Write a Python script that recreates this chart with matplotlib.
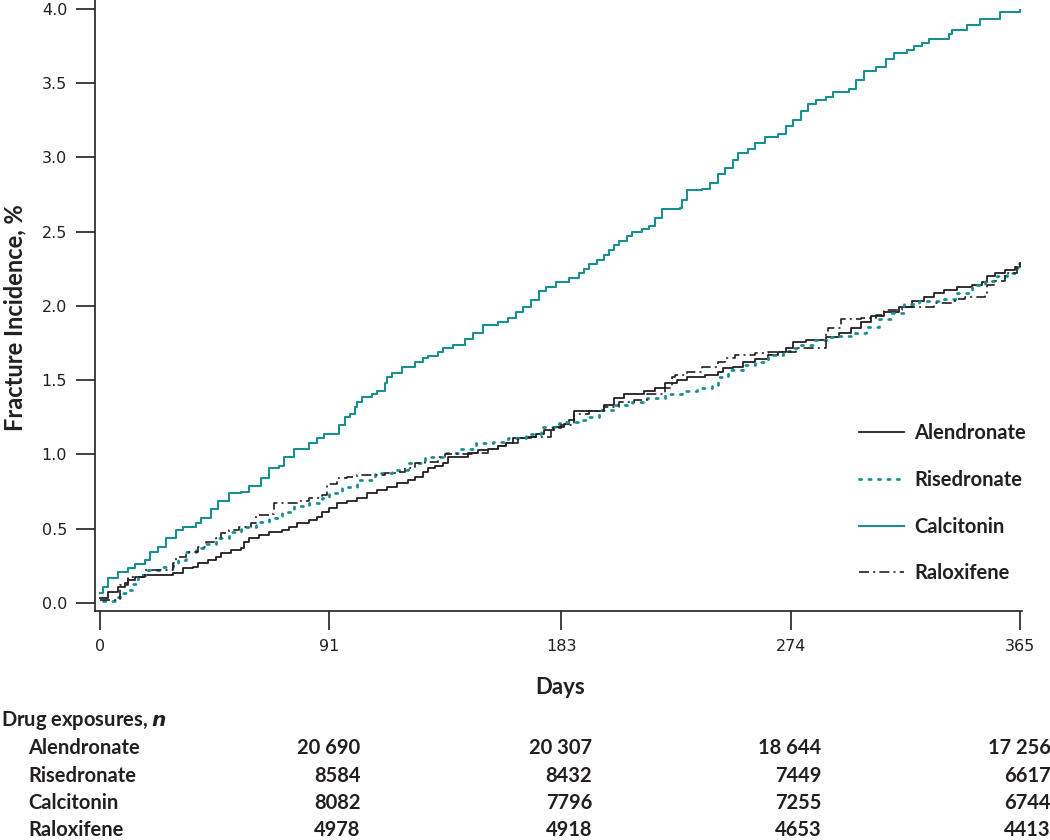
import matplotlib
matplotlib.use("Agg")
import matplotlib.pyplot as plt
import matplotlib.transforms as mtransforms

plt.rcParams['font.family'] = ['Lato', 'DejaVu Sans']

# cumulative fracture incidence (%)
alen_days = [0, 3, 7, 10, 11, 14, 17, 29, 33, 37, 39, 43, 46, 48, 52, 56, 57, 59, 63, 67,
             72, 75, 78, 83, 86, 88, 91, 94, 98, 102, 106, 110, 114, 118, 122, 125, 128,
             130, 133, 136, 138, 146, 150, 154, 158, 161, 164, 169, 173, 176, 180, 184,
             186, 188, 200, 204, 208, 216, 220, 224, 229, 233, 240, 245, 247, 251, 255,
             260, 265, 269, 272, 275, 280, 288, 293, 298, 302, 306, 311, 317, 322, 327,
             331, 335, 340, 346, 350, 352, 355, 359, 363, 365]
alen_inc = [0.035, 0.075, 0.11, 0.135, 0.155, 0.175, 0.19, 0.20, 0.235, 0.245, 0.27, 0.29,
            0.31, 0.335, 0.36, 0.37, 0.41, 0.44, 0.46, 0.48, 0.49, 0.51, 0.54, 0.56, 0.58,
            0.61, 0.64, 0.67, 0.69, 0.71, 0.74, 0.76, 0.78, 0.81, 0.83, 0.85, 0.88, 0.91,
            0.92, 0.94, 0.98, 1.01, 1.03, 1.04, 1.06, 1.08, 1.11, 1.12, 1.14, 1.165, 1.185,
            1.205, 1.23, 1.29, 1.33, 1.38, 1.41, 1.43, 1.45, 1.48, 1.50, 1.52, 1.535, 1.555,
            1.58, 1.59, 1.62, 1.64, 1.67, 1.69, 1.72, 1.76, 1.77, 1.79, 1.82, 1.85, 1.89,
            1.93, 1.96, 1.99, 2.03, 2.06, 2.09, 2.11, 2.13, 2.14, 2.16, 2.20, 2.22, 2.24,
            2.26, 2.29]

rise_days = [1, 7, 9, 11, 13, 15, 19, 25, 29, 31, 34, 38, 42, 46, 51, 56, 62, 67, 72, 77,
             83, 88, 91, 96, 102, 109, 116, 122, 129, 136, 142, 149, 156, 162, 169, 175,
             182, 185, 190, 194, 198, 204, 211, 217, 224, 231, 237, 243, 245, 249, 255,
             260, 265, 271, 275, 277, 283, 288, 293, 298, 304, 309, 314, 319, 325, 335,
             340, 346, 351, 356, 360, 364, 365]
rise_inc = [0.01, 0.04, 0.07, 0.09, 0.13, 0.19, 0.22, 0.24, 0.255, 0.29, 0.34, 0.37, 0.40,
            0.44, 0.48, 0.51, 0.545, 0.57, 0.61, 0.65, 0.67, 0.71, 0.74, 0.78, 0.83, 0.875,
            0.895, 0.94, 0.98, 1.01, 1.04, 1.08, 1.085, 1.11, 1.14, 1.185, 1.21, 1.22, 1.23,
            1.25, 1.30, 1.33, 1.35, 1.38, 1.41, 1.43, 1.45, 1.47, 1.52, 1.57, 1.60, 1.62,
            1.67, 1.70, 1.72, 1.74, 1.77, 1.79, 1.80, 1.82, 1.86, 1.91, 1.95, 2.01, 2.03,
            2.05, 2.09, 2.14, 2.17, 2.20, 2.22, 2.26, 2.26]

calc_days = [0, 1, 3, 7, 11, 14, 18, 20, 23, 26, 30, 33, 38, 40, 44, 47, 51, 56, 59, 64,
             67, 71, 73, 77, 83, 86, 89, 95, 97, 99, 101, 102, 104, 108, 110, 113, 114,
             116, 120, 125, 128, 130, 134, 136, 140, 145, 148, 152, 158, 162, 165, 168,
             171, 174, 177, 181, 186, 190, 192, 194, 197, 200, 202, 204, 206, 209, 211,
             215, 218, 220, 223, 230, 231, 233, 239, 242, 245, 248, 251, 253, 257, 260,
             264, 269, 272, 275, 278, 281, 284, 288, 291, 297, 300, 303, 308, 312, 315,
             320, 323, 326, 329, 337, 338, 344, 349, 357, 365]
calc_inc = [0.07, 0.11, 0.17, 0.21, 0.235, 0.26, 0.29, 0.34, 0.38, 0.44, 0.49, 0.51, 0.54,
            0.57, 0.63, 0.69, 0.74, 0.75, 0.79, 0.84, 0.91, 0.92, 0.98, 1.04, 1.08, 1.11,
            1.14, 1.20, 1.25, 1.27, 1.32, 1.35, 1.39, 1.41, 1.43, 1.48, 1.52, 1.55, 1.59,
            1.62, 1.65, 1.66, 1.69, 1.72, 1.74, 1.78, 1.82, 1.87, 1.89, 1.92, 1.96, 1.99,
            2.04, 2.10, 2.13, 2.16, 2.19, 2.22, 2.25, 2.28, 2.31, 2.34, 2.38, 2.41, 2.44,
            2.47, 2.50, 2.52, 2.54, 2.59, 2.65, 2.66, 2.71, 2.78, 2.79, 2.83, 2.89, 2.93,
            2.98, 3.03, 3.06, 3.10, 3.14, 3.16, 3.21, 3.25, 3.31, 3.36, 3.39, 3.41, 3.44,
            3.46, 3.52, 3.58, 3.61, 3.66, 3.70, 3.72, 3.75, 3.77, 3.80, 3.83, 3.86, 3.89,
            3.93, 3.98, 3.99]

ralo_days = [0, 8, 11, 18, 29, 30, 34, 38, 39, 42, 46, 48, 51, 55, 60, 62, 68, 69, 79, 83,
             88, 90, 94, 98, 102, 113, 118, 121, 125, 129, 134, 137, 148, 154, 158, 161,
             166, 171, 179, 183, 188, 194, 200, 206, 212, 217, 224, 227, 228, 233, 239,
             245, 248, 252, 260, 265, 276, 288, 289, 294, 302, 308, 311, 318, 331, 338,
             340, 343, 351, 352, 355, 359, 364, 365]
ralo_inc = [0.02, 0.12, 0.175, 0.22, 0.27, 0.31, 0.34, 0.345, 0.38, 0.41, 0.44, 0.47, 0.49,
            0.51, 0.54, 0.59, 0.60, 0.67, 0.69, 0.71, 0.73, 0.80, 0.84, 0.85, 0.86, 0.875,
            0.88, 0.91, 0.94, 0.95, 0.98, 1.00, 1.01, 1.04, 1.06, 1.08, 1.11, 1.12, 1.18,
            1.20, 1.27, 1.29, 1.32, 1.35, 1.37, 1.41, 1.45, 1.52, 1.535, 1.555, 1.59, 1.62,
            1.65, 1.67, 1.68, 1.69, 1.72, 1.82, 1.85, 1.91, 1.92, 1.94, 1.97, 1.99, 2.02,
            2.03, 2.05, 2.06, 2.09, 2.14, 2.17, 2.22, 2.28, 2.29]

drugs = ['Alendronate', 'Risedronate', 'Calcitonin', 'Raloxifene']
table_days = [91, 183, 274, 365]
exposures = {
    'Alendronate': ['20 690', '20 307', '18 644', '17 256'],
    'Risedronate': ['8584', '8432', '7449', '6617'],
    'Calcitonin': ['8082', '7796', '7255', '6744'],
    'Raloxifene': ['4978', '4918', '4653', '4413'],
}

teal = '#1a8f8f'
dark = '#231f20'

fig = plt.figure(figsize=(10.5, 8.4), dpi=100)
ax = fig.add_axes([95 / 1050, 1 - 611 / 840, 927.5 / 1050, 611 / 840])

ax.step(alen_days, alen_inc, where='post', color=dark, lw=1.3, label='Alendronate')
ax.step(rise_days, rise_inc, where='post', color=teal, lw=2.0,
        linestyle=(0, (0.8, 2.6)), dash_capstyle='round', label='Risedronate')
ax.step(calc_days, calc_inc, where='post', color=teal, lw=1.5, label='Calcitonin')
ax.step(ralo_days, ralo_inc, where='post', color=dark, lw=1.2,
        linestyle=(0, (6, 2.5, 1.2, 2.5)), label='Raloxifene')

ax.set_xlim(-2, 366)
ax.set_ylim(-0.054, 4.06)
ax.set_xticks([0, 91, 183, 274, 365])
ax.set_yticks([0.0, 0.5, 1.0, 1.5, 2.0, 2.5, 3.0, 3.5, 4.0])
ax.set_yticklabels(['%.1f' % v for v in ax.get_yticks()])
for s in ['top', 'right']:
    ax.spines[s].set_visible(False)
for s in ['left', 'bottom']:
    ax.spines[s].set_linewidth(1.2)
    ax.spines[s].set_color(dark)
ax.tick_params(direction='out', length=14, width=1.2, color=dark, pad=6,
               labelsize=11.5, labelcolor=dark)
for lab in ax.get_xticklabels() + ax.get_yticklabels():
    lab.set_family('DejaVu Sans')

fig.text(15 / 1050, 1 - 318 / 840, 'Fracture Incidence, %', rotation=90, ha='center',
         va='center', fontsize=17, fontweight='bold', color=dark)
fig.text(560 / 1050, 1 - 688 / 840, 'Days', ha='center', va='center',
         fontsize=16, fontweight='bold', color=dark)

ax.legend(loc='upper left', bbox_to_anchor=(841 / 1050, 1 - 405 / 840),
          bbox_transform=fig.transFigure, frameon=False, handlelength=2.25,
          handletextpad=0.5, labelspacing=1.33,
          prop=dict(family='Lato', weight='bold', size=14.5), labelcolor=dark)

# exposure table under the axis
fig.text(1 / 1050, 1 - 721 / 840, 'Drug exposures, $\\mathbfit{n}$', ha='left', va='center',
         fontsize=14.5, fontweight='bold', color=dark)
row_y = [748, 776, 803, 830]
trans = mtransforms.blended_transform_factory(ax.transData, fig.transFigure) + \
    mtransforms.ScaledTranslation(0.31, 0, fig.dpi_scale_trans)
for drug, yy in zip(drugs, row_y):
    fig.text(28 / 1050, 1 - yy / 840, drug, ha='left', va='center', fontsize=14.5,
             fontweight='bold', color=dark)
    for d, v in zip(table_days, exposures[drug]):
        ax.text(d, 1 - yy / 840, v, transform=trans, ha='right', va='center',
                fontsize=14.5, fontweight='bold', color=dark, clip_on=False)

fig.savefig('out.png', dpi=100)
